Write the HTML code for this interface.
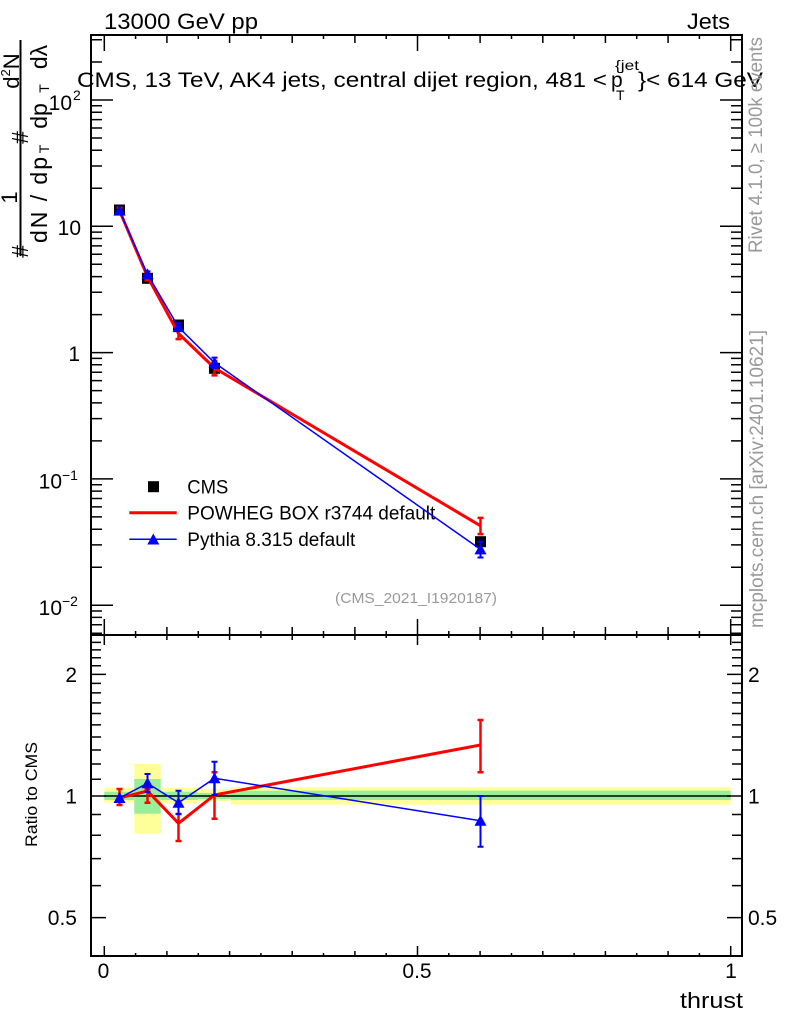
<!DOCTYPE html>
<html><head><meta charset="utf-8"><style>html,body{margin:0;padding:0;background:#fff}svg{display:block}text{font-family:"Liberation Sans",Arial,sans-serif}</style></head><body>
<svg width="786" height="1024" viewBox="0 0 786 1024" xmlns="http://www.w3.org/2000/svg">
<rect width="786" height="1024" fill="#fff"/>

<!-- header -->
<text x="104" y="29" font-size="22" textLength="154" lengthAdjust="spacingAndGlyphs">13000 GeV pp</text>
<text x="687" y="29" font-size="22" textLength="43" lengthAdjust="spacingAndGlyphs">Jets</text>

<!-- ratio bands -->
<g>
<rect x="104.3" y="787.7" width="30" height="15" fill="#ffff99"/>
<rect x="104.3" y="791.7" width="30" height="8.3" fill="#99ee99"/>
<rect x="134.3" y="764" width="26.4" height="69.7" fill="#ffff99"/>
<rect x="134.3" y="779" width="26.4" height="34.7" fill="#99ee99"/>
<rect x="160.7" y="787.7" width="37" height="15.6" fill="#ffff99"/>
<rect x="160.7" y="791.7" width="37" height="8.3" fill="#99ee99"/>
<rect x="197.7" y="789" width="33.3" height="12" fill="#ffff99"/>
<rect x="197.7" y="793" width="33.3" height="6" fill="#99ee99"/>
<rect x="231" y="787.3" width="499.7" height="17.4" fill="#ffff99"/>
<rect x="231" y="790.7" width="499.7" height="9.3" fill="#99ee99"/>
</g>
<line x1="104.3" y1="796" x2="730.7" y2="796" stroke="#000" stroke-width="1.5"/>

<!-- frames -->
<rect x="91" y="35" width="651" height="600" fill="none" stroke="#000" stroke-width="2"/>
<rect x="91" y="635" width="651" height="321" fill="none" stroke="#000" stroke-width="2"/>

<!-- x ticks -->
<g stroke="#000" stroke-width="1.5" fill="none">
<path d="M104.3 35v16M135.6 35v4M166.9 35v8M198.3 35v4M229.6 35v8M260.9 35v4M292.2 35v8M323.5 35v4M354.9 35v8M386.2 35v4M417.5 35v16M448.8 35v4M480.1 35v8M511.5 35v4M542.8 35v8M574.1 35v4M605.4 35v8M636.7 35v4M668.1 35v8M699.4 35v4M730.7 35v16"/>
<path d="M104.3 635v-16M135.6 635v-4M166.9 635v-8M198.3 635v-4M229.6 635v-8M260.9 635v-4M292.2 635v-8M323.5 635v-4M354.9 635v-8M386.2 635v-4M417.5 635v-16M448.8 635v-4M480.1 635v-8M511.5 635v-4M542.8 635v-8M574.1 635v-4M605.4 635v-8M636.7 635v-4M668.1 635v-8M699.4 635v-4M730.7 635v-16"/>
<path d="M104.3 635v10M135.6 635v3M166.9 635v5M198.3 635v3M229.6 635v5M260.9 635v3M292.2 635v5M323.5 635v3M354.9 635v5M386.2 635v3M417.5 635v10M448.8 635v3M480.1 635v5M511.5 635v3M542.8 635v5M574.1 635v3M605.4 635v5M636.7 635v3M668.1 635v5M699.4 635v3M730.7 635v10"/>
<path d="M104.3 956v-10M135.6 956v-3M166.9 956v-5M198.3 956v-3M229.6 956v-5M260.9 956v-3M292.2 956v-5M323.5 956v-3M354.9 956v-5M386.2 956v-3M417.5 956v-10M448.8 956v-3M480.1 956v-5M511.5 956v-3M542.8 956v-5M574.1 956v-3M605.4 956v-5M636.7 956v-3M668.1 956v-5M699.4 956v-3M730.7 956v-10"/>
</g>

<!-- y ticks top (log) -->
<g stroke="#000" stroke-width="1.5" fill="none">
<path d="M91 100h22M91 226.3h22M91 352.6h22M91 478.9h22M91 605.2h22"/>
<path d="M742 100h-22M742 226.3h-22M742 352.6h-22M742 478.9h-22M742 605.2h-22"/>
<path d="M91 62h11M91 39.7h11M91 188.3h11M91 166h11M91 150.3h11M91 138h11M91 128h11M91 119.6h11M91 112.2h11M91 105.8h11M91 314.6h11M91 292.3h11M91 276.6h11M91 264.3h11M91 254.3h11M91 245.9h11M91 238.5h11M91 232.1h11M91 440.9h11M91 418.6h11M91 402.9h11M91 390.6h11M91 380.6h11M91 372.2h11M91 364.8h11M91 358.4h11M91 567.2h11M91 544.9h11M91 529.2h11M91 516.9h11M91 506.9h11M91 498.5h11M91 491.1h11M91 484.7h11M91 633.2h11M91 624.8h11M91 617.4h11M91 611h11"/>
<path d="M742 62h-11M742 39.7h-11M742 188.3h-11M742 166h-11M742 150.3h-11M742 138h-11M742 128h-11M742 119.6h-11M742 112.2h-11M742 105.8h-11M742 314.6h-11M742 292.3h-11M742 276.6h-11M742 264.3h-11M742 254.3h-11M742 245.9h-11M742 238.5h-11M742 232.1h-11M742 440.9h-11M742 418.6h-11M742 402.9h-11M742 390.6h-11M742 380.6h-11M742 372.2h-11M742 364.8h-11M742 358.4h-11M742 567.2h-11M742 544.9h-11M742 529.2h-11M742 516.9h-11M742 506.9h-11M742 498.5h-11M742 491.1h-11M742 484.7h-11M742 633.2h-11M742 624.8h-11M742 617.4h-11M742 611h-11"/>
</g>

<!-- y ticks ratio -->
<g stroke="#000" stroke-width="1.5" fill="none">
<path d="M91 917.6h15M91 796h15M91 674.4h15M742 917.6h-15M742 796h-15M742 674.4h-15"/>
<path d="M91 885.6h10M91 858.6h10M91 835.2h10M91 814.5h10M91 779.3h10M91 764h10M91 750h10M91 737h10M91 724.9h10M91 713.5h10M91 702.9h10M91 692.9h10M91 683.4h10M91 665.8h10M91 657.7h10M91 649.9h10M91 642.4h10"/>
<path d="M742 885.6h-10M742 858.6h-10M742 835.2h-10M742 814.5h-10M742 779.3h-10M742 764h-10M742 750h-10M742 737h-10M742 724.9h-10M742 713.5h-10M742 702.9h-10M742 692.9h-10M742 683.4h-10M742 665.8h-10M742 657.7h-10M742 649.9h-10M742 642.4h-10"/>
</g>

<!-- top panel tick labels -->
<g font-size="21" fill="#000">
<text x="72" y="110" text-anchor="end">10</text><text x="73" y="100" font-size="14">2</text>
<text x="81" y="235" text-anchor="end">10</text>
<text x="80" y="361" text-anchor="end">1</text>
<text x="62" y="488.5" text-anchor="end">10</text><text x="62" y="480" font-size="14">−1</text>
<text x="62" y="615" text-anchor="end">10</text><text x="62" y="606" font-size="14">−2</text>
</g>
<!-- ratio tick labels -->
<g font-size="21" fill="#000">
<text x="77" y="682" text-anchor="end">2</text>
<text x="77" y="803.5" text-anchor="end">1</text>
<text x="77" y="925" text-anchor="end">0.5</text>
<text x="748" y="682">2</text>
<text x="748" y="803.5">1</text>
<text x="748" y="925">0.5</text>
</g>
<!-- x labels -->
<g font-size="21" fill="#000">
<text x="103.5" y="978" text-anchor="middle">0</text>
<text x="417" y="978" text-anchor="middle">0.5</text>
<text x="731" y="978" text-anchor="middle">1</text>
<text x="743" y="1008" text-anchor="end" font-size="22" textLength="63" lengthAdjust="spacingAndGlyphs">thrust</text>
</g>

<!-- title -->
<g font-size="21" fill="#000">
<text x="77" y="87" textLength="530" lengthAdjust="spacingAndGlyphs">CMS, 13 TeV, AK4 jets, central dijet region, 481 &lt;</text>
<text x="611" y="87">p</text>
<text x="615" y="70" font-size="14" textLength="24" lengthAdjust="spacingAndGlyphs">{jet</text>
<text x="616" y="100" font-size="14">T</text>
<text x="638" y="87" textLength="125" lengthAdjust="spacingAndGlyphs">}&lt; 614 GeV</text>
</g>

<!-- y axis label -->
<g fill="#000">
<line x1="20.5" y1="40" x2="20.5" y2="256" stroke="#000" stroke-width="2"/>
<text transform="translate(28,251.5) rotate(-90)" font-size="23" text-anchor="middle">#</text>
<text transform="translate(17,197.5) rotate(-90)" font-size="22" text-anchor="middle">1</text>
<text transform="translate(47,200) rotate(-90)" font-size="23" text-anchor="middle" textLength="86" lengthAdjust="spacing">dN / dp</text>
<text transform="translate(49,149) rotate(-90)" font-size="14" text-anchor="middle">T</text>
<text transform="translate(28,137.5) rotate(-90)" font-size="23" text-anchor="middle">#</text>
<text transform="translate(19,71) rotate(-90)" font-size="22" text-anchor="middle">d<tspan font-size="13" dy="-9">2</tspan><tspan dy="9">N</tspan></text>
<text transform="translate(47,116) rotate(-90)" font-size="23" text-anchor="middle">dp</text>
<text transform="translate(49,88.5) rotate(-90)" font-size="14" text-anchor="middle">T</text>
<text transform="translate(47,57) rotate(-90)" font-size="23" text-anchor="middle">dλ</text>
</g>
<text transform="translate(37,794.5) rotate(-90)" font-size="17" text-anchor="middle" textLength="105" lengthAdjust="spacingAndGlyphs">Ratio to CMS</text>

<!-- right side texts -->
<text transform="translate(762,145) rotate(-90)" font-size="19" fill="#999" text-anchor="middle" textLength="216" lengthAdjust="spacingAndGlyphs">Rivet 4.1.0, ≥ 100k events</text>
<text transform="translate(763,479) rotate(-90)" font-size="19" fill="#999" text-anchor="middle" textLength="298" lengthAdjust="spacingAndGlyphs">mcplots.cern.ch [arXiv:2401.10621]</text>

<!-- analysis id -->
<text x="335" y="603" font-size="15" fill="#999" textLength="162" lengthAdjust="spacingAndGlyphs">(CMS_2021_I1920187)</text>

<!-- legend -->
<rect x="148" y="481.2" width="11" height="11" fill="#000"/>
<text x="187.3" y="493.3" font-size="19" textLength="41" lengthAdjust="spacingAndGlyphs">CMS</text>
<line x1="129.3" y1="512.7" x2="176.7" y2="512.7" stroke="#ff0000" stroke-width="3"/>
<text x="187.3" y="519.3" font-size="19" textLength="248" lengthAdjust="spacingAndGlyphs">POWHEG BOX r3744 default</text>
<line x1="129.3" y1="539.3" x2="176.7" y2="539.3" stroke="#0000ff" stroke-width="1.5"/>
<polygon points="147.3,544.5 159.3,544.5 153.3,533.5" fill="#0000ff"/>
<text x="187.3" y="546" font-size="19" textLength="168" lengthAdjust="spacingAndGlyphs">Pythia 8.315 default</text>

<!-- top panel data: CMS -->
<g fill="#000">
<rect x="114" y="204.5" width="11" height="11"/>
<rect x="142" y="272.8" width="11" height="11"/>
<rect x="173" y="319.5" width="11" height="11"/>
<rect x="209" y="362.8" width="11" height="11"/>
<rect x="475" y="536.2" width="11" height="11"/>
</g>
<!-- top panel: red -->
<polyline points="119.5,210.6 147.5,276.7 178.5,333.5 214.5,368 480.5,525.8" fill="none" stroke="#ff0000" stroke-width="3" stroke-linejoin="round"/>
<g stroke="#ff0000" stroke-width="2.5" fill="none">
<path d="M119.5 207.8V212.8M116.5 207.8h6M116.5 212.8h6"/>
<path d="M147.5 276.2V280.4M144.5 276.2h6M144.5 280.4h6"/>
<path d="M178.5 330.6V339.1M175.5 330.6h6M175.5 339.1h6"/>
<path d="M214.5 360.9V375.4M211.5 360.9h6M211.5 375.4h6"/>
<path d="M480.5 517.9V534.1M477.5 517.9h6M477.5 534.1h6"/>
</g>
<!-- top panel: blue -->
<polyline points="119.5,210.6 147.5,274.3 178.5,327.1 214.5,362.8 480.5,549.4" fill="none" stroke="#0000ff" stroke-width="1.5" stroke-linejoin="round"/>
<g stroke="#0000ff" stroke-width="2" fill="none">
<path d="M147.5 271.4V277M144.5 271.4h6M144.5 277h6"/>
<path d="M178.5 323.3V330.6M175.5 323.3h6M175.5 330.6h6"/>
<path d="M214.5 357.6V368M211.5 357.6h6M211.5 368h6"/>
<path d="M480.5 541.7V557.5M477.5 541.7h6M477.5 557.5h6"/>
</g>
<g fill="#0000ff">
<polygon points="113.5,215.6 125.5,215.6 119.5,204.6"/>
<polygon points="141.5,279.3 153.5,279.3 147.5,268.3"/>
<polygon points="172.5,332.1 184.5,332.1 178.5,321.1"/>
<polygon points="208.5,367.8 220.5,367.8 214.5,356.8"/>
<polygon points="474.5,554.4 486.5,554.4 480.5,543.4"/>
</g>

<!-- ratio panel: red -->
<polyline points="119.5,798 147.5,791 178.5,823.3 214.5,795 480.5,745" fill="none" stroke="#ff0000" stroke-width="3" stroke-linejoin="round"/>
<g stroke="#ff0000" stroke-width="2.5" fill="none">
<path d="M119.5 789V805M116.5 789h6M116.5 805h6"/>
<path d="M147.5 789.3V802.7M144.5 789.3h6M144.5 802.7h6"/>
<path d="M178.5 814V841M175.5 814h6M175.5 841h6"/>
<path d="M214.5 772.3V818.7M211.5 772.3h6M211.5 818.7h6"/>
<path d="M480.5 720V772.3M477.5 720h6M477.5 772.3h6"/>
</g>
<!-- ratio panel: blue -->
<polyline points="119.5,798 147.5,783.3 178.5,802.7 214.5,778.3 480.5,820.7" fill="none" stroke="#0000ff" stroke-width="1.5" stroke-linejoin="round"/>
<g stroke="#0000ff" stroke-width="2" fill="none">
<path d="M119.5 793V803"/>
<path d="M147.5 774V792M144.5 774h6M144.5 792h6"/>
<path d="M178.5 790.7V814M175.5 790.7h6M175.5 814h6"/>
<path d="M214.5 761.7V795M211.5 761.7h6M211.5 795h6"/>
<path d="M480.5 796V846.7M477.5 796h6M477.5 846.7h6"/>
</g>
<g fill="#0000ff">
<polygon points="113.5,803 125.5,803 119.5,792"/>
<polygon points="141.5,788.3 153.5,788.3 147.5,777.3"/>
<polygon points="172.5,807.7 184.5,807.7 178.5,796.7"/>
<polygon points="208.5,783.3 220.5,783.3 214.5,772.3"/>
<polygon points="474.5,825.7 486.5,825.7 480.5,814.7"/>
</g>
</svg>
</body></html>
